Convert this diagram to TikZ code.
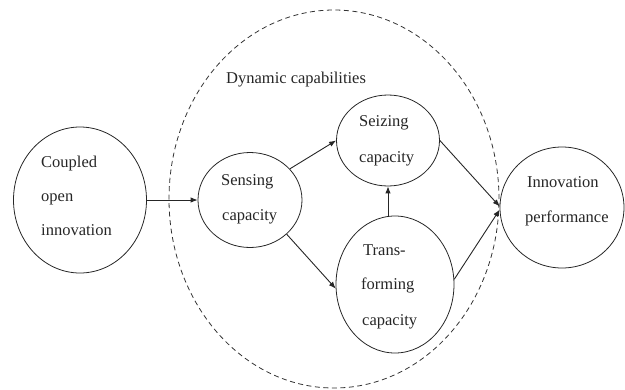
\documentclass[tikz,border=0pt]{standalone}
\usepackage{fontspec}
\setmainfont{Liberation Serif}
\usetikzlibrary{arrows.meta,shapes.geometric}
\begin{document}
\begin{tikzpicture}[x=1pt,y=-1pt,
  ell/.style={draw=black!85,line width=0.8pt,ellipse,inner sep=0pt},
  dc/.style={draw=black!80,line width=0.8pt,ellipse,inner sep=0pt,dash pattern=on 5pt off 3.5pt},
  txt/.style={anchor=base west,inner sep=0pt,font=\fontsize{16.5pt}{20pt}\selectfont,text=black!85},
  arr/.style={draw=black!85,line width=0.9pt,-{Latex[length=7pt,width=5.5pt]}}]
\useasboundingbox (0,0) rectangle (625,389);
% dashed container
\node[dc,minimum width=330pt,minimum height=378pt] (dyn) at (334,199) {};
% ellipses
\node[ell,minimum width=133pt,minimum height=146pt] (coi) at (80,200) {};
\node[ell,minimum width=104pt,minimum height=95pt] (sens) at (250,200) {};
\node[ell,minimum width=103pt,minimum height=91pt] (seiz) at (388,140.5) {};
\node[ell,minimum width=118pt,minimum height=137pt] (trans) at (395,284.5) {};
\node[ell,minimum width=124pt,minimum height=121pt] (innov) at (562,207.5) {};
% texts
\node[txt] (tdyn) at (226,83) {Dynamic capabilities};
\node[txt] (tc1) at (41,167) {Coupled};
\node[txt] (tc2) at (41,201) {open};
\node[txt] (tc3) at (41,235) {innovation};
\node[txt] (ts1) at (221,185) {Sensing};
\node[txt] (ts2) at (222,220) {capacity};
\node[txt] (tz1) at (359,126) {Seizing};
\node[txt] (tz2) at (359,162) {capacity};
\node[txt] (tt1) at (363,255) {Trans-};
\node[txt] (tt2) at (361,289) {forming};
\node[txt] (tt3) at (362,325) {capacity};
\node[txt] (ti1) at (527,187) {Innovation};
\node[txt] (ti2) at (525,222) {performance};
% connectors
\draw[arr] (coi) -- (sens);
\draw[arr] (sens.38) -- (seiz.west);
\draw[arr] (sens.-43) -- (trans.184);
\draw[arr] (seiz.east) -- (innov.179);
\draw[arr] (trans.5) -- (innov.182);
\draw[arr] (trans.north -| seiz.south) -- (seiz.south);
\end{tikzpicture}
\end{document}
